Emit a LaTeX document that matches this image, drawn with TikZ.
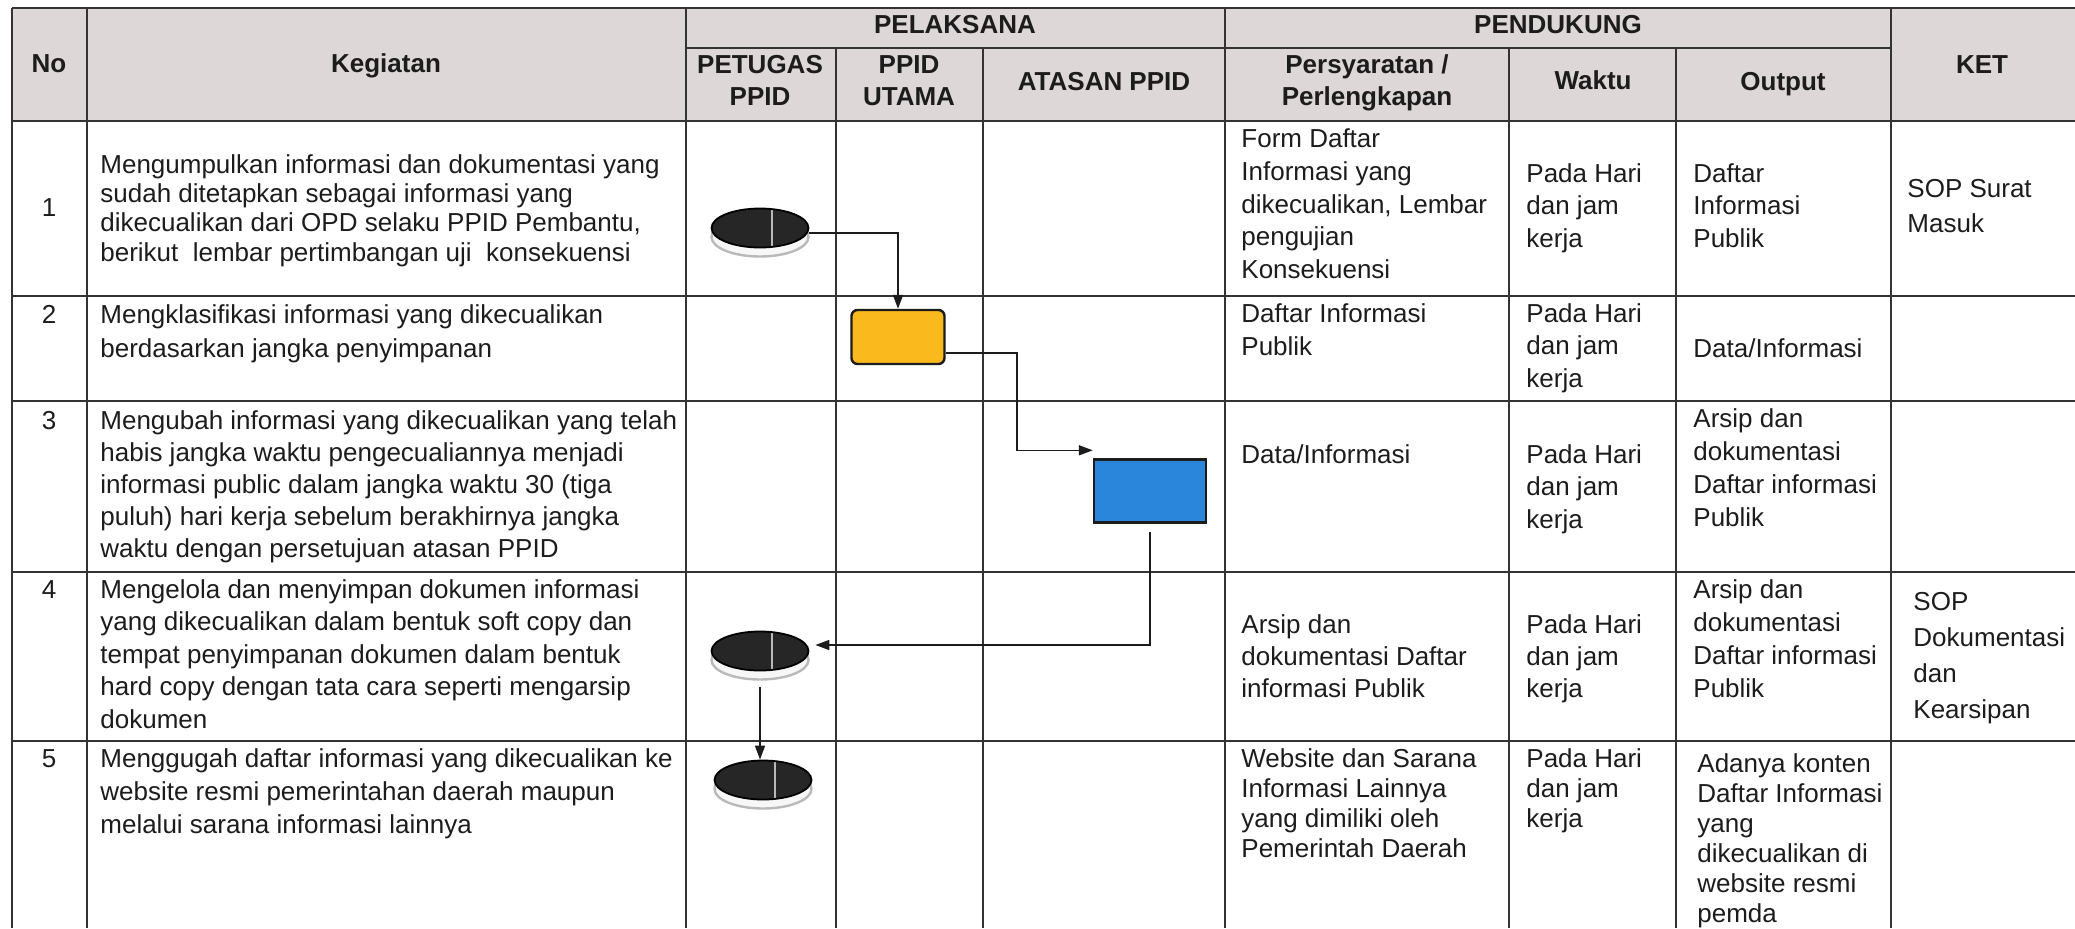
\documentclass[tikz,border=0pt]{standalone}
\usepackage{fontspec}
\setmainfont{Liberation Sans}
\usetikzlibrary{arrows.meta,shapes.geometric}
\definecolor{headgray}{RGB}{221,215,215}
\definecolor{boxyellow}{RGB}{250,186,30}
\definecolor{boxblue}{RGB}{42,134,218}
\definecolor{ink}{RGB}{28,28,28}
\newcommand{\st}{\rule{0pt}{12pt}}
\begin{document}
\begin{tikzpicture}[x=0.5pt,y=-0.5pt,
 gridline/.style={draw=ink!90,line width=1.1pt},
 txt/.style={anchor=north west,align=left,inner sep=0pt,text=ink,font=\fontsize{13}{#1}\selectfont},
 txt/.default=16.5,
 num/.style={anchor=north,inner sep=0pt,text=ink,font=\fontsize{13}{16}\selectfont},
 head/.style={anchor=north,align=center,inner sep=0pt,text=ink,font=\bfseries\fontsize{13}{16}\selectfont},
 oval/.style={ellipse,draw=black,line width=0.9pt,fill=black!85,minimum width=48.5pt,minimum height=19.5pt,inner sep=0pt,
   preaction={fill=gray!6,draw=gray!55,line width=1.2pt,transform canvas={yshift=-4.5pt}},
   path picture={\draw[gray!55,line width=0.6pt]([xshift=6pt]path picture bounding box.north)--([xshift=6pt]path picture bounding box.south);}},
 flow/.style={draw=ink,line width=0.8pt,-{Triangle[length=7pt,width=5pt]}}]
\useasboundingbox (0,0) rectangle (2075,928);
% header band
\fill[headgray] (12,8) rectangle (2075,121);
\node[head] (hno) at (49,48) {\st No};
\node[head] (hkeg) at (386,48) {\st Kegiatan};
\node[head] (hpel) at (955,9) {\st PELAKSANA};
\node[head] (hpen) at (1558,9) {\st PENDUKUNG};
\node[head] (hpet) at (760,49) {\st PETUGAS\\PPID};
\node[head] (hutm) at (909,49) {\st PPID\\UTAMA};
\node[head] (hats) at (1104,66) {\st ATASAN PPID};
\node[head] (hsyr) at (1367,49) {\st Persyaratan /\\Perlengkapan};
\node[head] (hwkt) at (1593,65) {\st Waktu};
\node[head] (hout) at (1783,66) {\st Output};
\node[head] (hket) at (1982,49) {\st KET};
% table rules
\foreach \x in {12,87,686,1225,1891} \draw[gridline] (\x,8) -- (\x,928);
\foreach \x in {836,983,1509,1676} \draw[gridline] (\x,48) -- (\x,928);
\draw[gridline] (12,8) -- (2075,8);
\draw[gridline] (686,48) -- (1891,48);
\foreach \y in {121,296,401,572,741} \draw[gridline] (12,\y) -- (2075,\y);
% No
\foreach \n/\y in {1/192,2/299,3/405,4/574,5/743} \node[num] (no\n) at (49,\y) {\st\n};
% Kegiatan
\node[txt=14.6] (k1) at (100,149) {\st Mengumpulkan informasi dan dokumentasi yang\\sudah ditetapkan sebagai informasi yang\\dikecualikan dari OPD selaku PPID Pembantu,\\berikut\ \ lembar pertimbangan uji\ \ konsekuensi};
\node[txt=17] (k2) at (100,299) {\st Mengklasifikasi informasi yang dikecualikan\\berdasarkan jangka penyimpanan};
\node[txt=16] (k3) at (100,405) {\st Mengubah informasi yang dikecualikan yang telah\\habis jangka waktu pengecualiannya menjadi\\informasi public dalam jangka waktu 30 (tiga\\puluh) hari kerja sebelum berakhirnya jangka\\waktu dengan persetujuan atasan PPID};
\node[txt=16.25] (k4) at (100,574) {\st Mengelola dan menyimpan dokumen informasi\\yang dikecualikan dalam bentuk soft copy dan\\tempat penyimpanan dokumen dalam bentuk\\hard copy dengan tata cara seperti mengarsip\\dokumen};
\node[txt] (k5) at (100,743) {\st Menggugah daftar informasi yang dikecualikan ke\\website resmi pemerintahan daerah maupun\\melalui sarana informasi lainnya};
% Persyaratan / Perlengkapan
\node[txt=16.4] (p1) at (1241,123) {\st Form Daftar\\Informasi yang\\dikecualikan, Lembar\\pengujian\\Konsekuensi};
\node[txt] (p2) at (1241,298) {\st Daftar Informasi\\Publik};
\node[txt] (p3) at (1241,439) {\st Data/Informasi};
\node[txt=16] (p4) at (1241,609) {\st Arsip dan\\dokumentasi Daftar\\informasi Publik};
\node[txt=15] (p5) at (1241,743) {\st Website dan Sarana\\Informasi Lainnya\\yang dimiliki oleh\\Pemerintah Daerah};
% Waktu
\foreach \r/\y/\b in {1/158/16.25,2/298/16.25,3/439/16.25,4/609/16,5/743/15}
  \node[txt=\b] (w\r) at (1526,\y) {\st Pada Hari\\dan jam\\kerja};
% Output
\node[txt=16.25] (o1) at (1693,158) {\st Daftar\\Informasi\\Publik};
\node[txt] (o2) at (1693,333) {\st Data/Informasi};
\node[txt] (o3) at (1693,403) {\st Arsip dan\\dokumentasi\\Daftar informasi\\Publik};
\node[txt] (o4) at (1693,574) {\st Arsip dan\\dokumentasi\\Daftar informasi\\Publik};
\node[txt=15] (o5) at (1697,748) {\st Adanya konten\\Daftar Informasi\\yang\\dikecualikan di\\website resmi\\pemda};
% KET
\node[txt=17.5] (t1) at (1907,173) {\st SOP Surat\\Masuk};
\node[txt=18] (t4) at (1913,586) {\st SOP\\Dokumentasi\\dan\\Kearsipan};
% flow shapes
\node[oval] (e1) at (760,228) {};
\node[draw=ink,line width=1.2pt,fill=boxyellow,rounded corners=3pt,minimum width=46.5pt,minimum height=27pt] (b1) at (898,337) {};
\node[draw=ink,line width=1.2pt,fill=boxblue,minimum width=56pt,minimum height=31.5pt] (b2) at (1150,491) {};
\node[oval] (e4) at (760,651) {};
\node[oval] (e5) at (763,780) {};
% connectors
\draw[flow] ([yshift=-2.5pt]e1.east) -| (b1.north);
\draw[flow] ([yshift=-8pt]b1.east) -| ([xshift=-38pt,yshift=4pt]b2.north west) -- ([yshift=4pt]b2.north west);
\draw[flow] ([yshift=-4pt]b2.south) |- ([xshift=3pt,yshift=3pt]e4.east);
\draw[flow] ([yshift=-8pt]e4.south) -- (e4.south |- e5.north);
\end{tikzpicture}
\end{document}
